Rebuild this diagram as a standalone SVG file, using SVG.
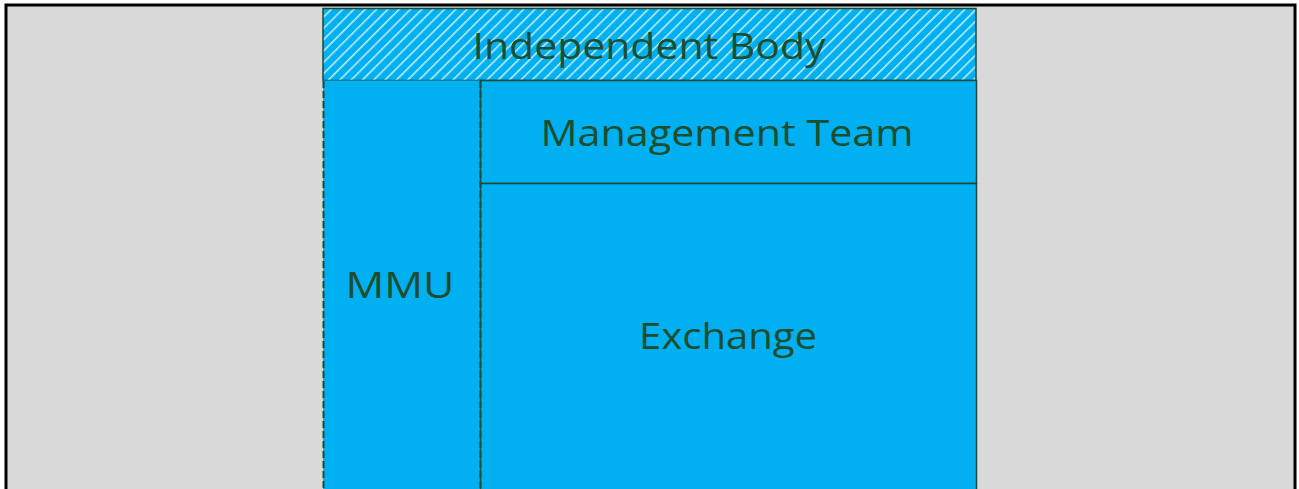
<svg xmlns="http://www.w3.org/2000/svg" width="1299" height="489" viewBox="0 0 1299 489">
<defs>
<pattern id="hatch" patternUnits="userSpaceOnUse" width="8" height="8" patternTransform="rotate(45)">
<rect width="8" height="8" fill="#00B0F0"/>
<rect x="0" y="0" width="1.6" height="8" fill="#BDEBFB"/>
</pattern>
<style>
.box{fill:#00B0F0;stroke:#1B4A36;stroke-width:1.5}
.dash{stroke:#1B4A36;stroke-width:2;stroke-dasharray:7 3;fill:none}
.lbl{font-family:"Open Sans","Noto Sans",sans-serif;font-size:36px;fill:#1C4D2E;text-anchor:middle}
</style>
</defs>
<rect x="0" y="0" width="1299" height="489" fill="#FFFFFF"/>
<rect x="6" y="5" width="1289" height="500" fill="#D9D9D9" stroke="#000" stroke-width="3"/>
<g id="independent-body">
<rect x="323" y="8.5" width="653" height="72" fill="url(#hatch)" stroke="#1B4A36" stroke-width="1.5"/>
<text class="lbl" x="649" y="59" textLength="353" lengthAdjust="spacingAndGlyphs">Independent Body</text>
</g>
<g id="mmu">
<rect x="323" y="80.5" width="157.5" height="420" fill="#00B0F0"/>
<text class="lbl" x="400" y="298" textLength="109" lengthAdjust="spacingAndGlyphs">MMU</text>
</g>
<g id="management-team">
<rect class="box" x="480.5" y="80.5" width="496" height="103"/>
<text class="lbl" x="727" y="146" textLength="373" lengthAdjust="spacingAndGlyphs">Management Team</text>
</g>
<g id="exchange">
<rect class="box" x="480.5" y="183.5" width="496" height="320"/>
<text class="lbl" x="728" y="349" textLength="178" lengthAdjust="spacingAndGlyphs">Exchange</text>
</g>
<g id="connectors">
<line class="dash" x1="323.5" y1="81" x2="323.5" y2="489"/>
<line class="dash" x1="480.5" y1="81" x2="480.5" y2="489"/>
</g>
</svg>
